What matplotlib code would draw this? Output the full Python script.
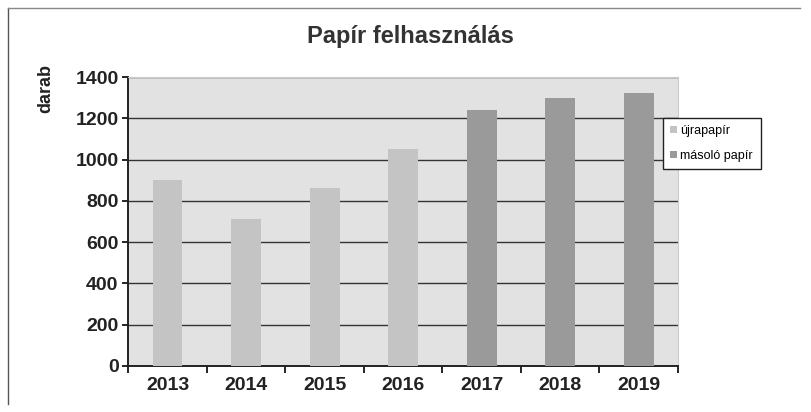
import numpy as np
import matplotlib.pyplot as plt
from matplotlib.lines import Line2D

years = ['2013', '2014', '2015', '2016', '2017', '2018', '2019']
ujrapapir = [900, 710, 860, 1050, 0, 0, 0]
masolo = [0, 0, 0, 0, 1240, 1300, 1325]
yticks = [0, 200, 400, 600, 800, 1000, 1200, 1400]

plt.rcParams['font.family'] = ['Liberation Sans', 'DejaVu Sans']

fig = plt.figure(figsize=(8.12, 4.12), dpi=100)
ax = fig.add_axes([0.158, 0.112, 0.677, 0.701])
ax.set_facecolor('#e2e2e2')

x = np.arange(len(years))
ax.bar(x, ujrapapir, width=0.38, color='#c4c4c4', label='újrapapír', zorder=3)
ax.bar(x, masolo, width=0.38, color='#9a9a9a', label='másoló papír', zorder=3)

ax.set_xlim(-0.5, len(years) - 0.5)
ax.set_ylim(0, 1400)
ax.set_yticks(yticks)
ax.set_yticklabels([str(v) for v in yticks], fontsize=14, fontweight='bold', color='#222222')
ax.set_xticks(x)
ax.set_xticklabels(years, fontsize=14, fontweight='bold', color='#222222')
ax.tick_params(axis='x', length=0, pad=8)
ax.set_xticks(np.arange(-0.5, len(years)), minor=True)
ax.tick_params(axis='x', which='minor', length=5, direction='out', width=1.2)
ax.tick_params(axis='y', length=4, width=1.2, pad=3)

ax.grid(axis='y', color='#333333', linewidth=1.0, zorder=1)
for s in ['top', 'right']:
    ax.spines[s].set_color('#cccccc')
for s in ['left', 'bottom']:
    ax.spines[s].set_color('#222222')
    ax.spines[s].set_linewidth(1.4)

ax.set_ylabel('darab', fontsize=13, fontweight='bold', color='#222222')
ax.yaxis.set_label_coords(-0.135, 0.96)

fig.suptitle('Papír felhasználás', x=0.505, y=0.94, fontsize=17, fontweight='bold', color='#333333')

leg = fig.legend(loc='upper left', bbox_to_anchor=(0.8165, 0.714), fontsize=9,
                 frameon=True, fancybox=False, edgecolor='#222222', framealpha=1,
                 handlelength=0.5, handleheight=0.5, handletextpad=0.3,
                 borderpad=0.6, labelspacing=1.0, borderaxespad=0)
leg.get_frame().set_linewidth(1.0)

# outer chart frame
fig.add_artist(Line2D([0.01, 0.01], [0.02, 0.98], color='#555555', linewidth=1.0))
fig.add_artist(Line2D([0.01, 0.985], [0.98, 0.98], color='#888888', linewidth=1.0))

fig.savefig('out.png', dpi=100)
